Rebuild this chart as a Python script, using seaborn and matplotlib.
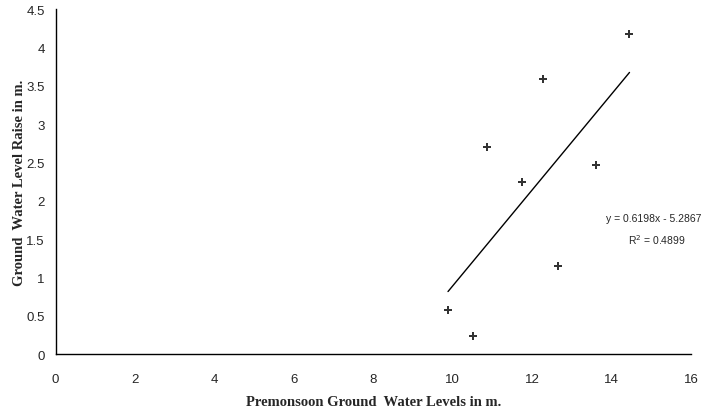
import matplotlib
matplotlib.use("Agg")
import matplotlib.pyplot as plt
import seaborn as sns
import numpy as np
import pandas as pd

premonsoon = [9.88, 10.52, 10.87, 11.74, 12.28, 12.66, 13.60, 14.45]
raise_m = [0.58, 0.24, 2.70, 2.24, 3.585, 1.15, 2.46, 4.17]
x_ticks = [0, 2, 4, 6, 8, 10, 12, 14, 16]
y_ticks = [0, 0.5, 1, 1.5, 2, 2.5, 3, 3.5, 4, 4.5]
y_tick_labels = ["0", "0.5", "1", "1.5", "2", "2.5", "3", "3.5", "4", "4.5"]
eq_text = "y = 0.6198x - 5.2867"
r2_text = "R$^2$ = 0.4899"

df = pd.DataFrame({"x": premonsoon, "y": raise_m})

sns.set_style("white")
plt.rcParams["font.family"] = ["Liberation Sans", "DejaVu Sans"]

fig = plt.figure(figsize=(7.03, 4.14), dpi=100)
ax = fig.add_axes([0.0792, 0.1425, 0.9038, 0.8333])

sns.regplot(data=df, x="x", y="y", ax=ax, ci=None,
            marker="P",
            scatter_kws={"s": 32, "color": "black", "linewidths": 0},
            line_kws={"color": "black", "linewidth": 1.0})

ax.set_xlim(0, 16)
ax.set_ylim(0, 4.5)
ax.set_xticks(x_ticks)
ax.set_xticklabels([str(t) for t in x_ticks])
ax.set_yticks(y_ticks)
ax.set_yticklabels(y_tick_labels)

for side in ["top", "right"]:
    ax.spines[side].set_visible(False)
for side in ["left", "bottom"]:
    ax.spines[side].set_color("black")
    ax.spines[side].set_linewidth(1.0)

ax.tick_params(axis="both", direction="out", length=4, width=1, color="black",
               labelsize=9.5)
ax.tick_params(axis="x", pad=10)
ax.tick_params(axis="y", pad=4)

ax.set_xlabel("Premonsoon Ground  Water Levels in m.", fontsize=10.5,
              fontweight="bold", family=["Liberation Serif"], labelpad=7)
ax.set_ylabel("Ground  Water Level Raise in m.", fontsize=10.5,
              fontweight="bold", family=["Liberation Serif"])
ax.yaxis.set_label_coords(-0.047, 0.5)

ax.text(16.25, 1.78, eq_text, fontsize=7.5, ha="right", va="center",
        clip_on=False)
ax.text(15.15, 1.5, r2_text, fontsize=7.5, ha="center", va="center",
        clip_on=False)

fig.savefig("out.png", dpi=100)
